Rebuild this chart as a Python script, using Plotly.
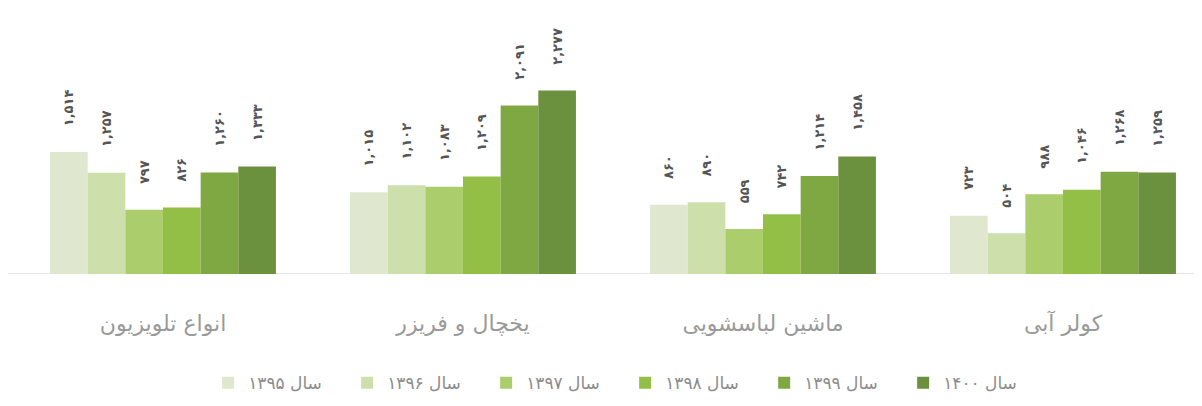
import plotly.graph_objects as go

categories = ["انواع تلویزیون", "یخچال و فریزر", "ماشین لباسشویی", "کولر آبی"]
years = ["سال ۱۳۹۵", "سال ۱۳۹۶", "سال ۱۳۹۷", "سال ۱۳۹۸", "سال ۱۳۹۹", "سال ۱۴۰۰"]

v1395 = [1514, 1015, 860, 723]
v1396 = [1257, 1102, 890, 504]
v1397 = [797, 1083, 559, 988]
v1398 = [826, 1209, 742, 1046]
v1399 = [1260, 2091, 1214, 1268]
v1400 = [1333, 2277, 1458, 1259]

series = [v1395, v1396, v1397, v1398, v1399, v1400]
colors = ["#dfe8cf", "#cde0ab", "#abcd6c", "#93bf46", "#7fa843", "#6c913e"]

FA = str.maketrans("0123456789", "۰۱۲۳۴۵۶۷۸۹")


def fa(n):
    return f"{n:,}".translate(FA)


fig = go.Figure()
for name, vals, col in zip(years, series, colors):
    fig.add_trace(go.Bar(
        x=categories, y=vals, name=name,
        marker=dict(color=col, line=dict(width=0)),
        text=["\u00a0" * 5 + fa(v) for v in vals],
        textposition="outside", textangle=-90, constraintext="none",
        cliponaxis=False,
        textfont=dict(family="DejaVu Sans", size=13, color="#555555", weight="bold"),
    ))

fig.add_shape(type="line", xref="paper", yref="y", x0=-0.012, x1=1.02, y0=0, y1=0,
              line=dict(color="#e6e6e6", width=2), layer="below")

fig.update_layout(
    width=1202, height=406,
    margin=dict(l=5, r=18, t=12, b=140),
    paper_bgcolor="white", plot_bgcolor="white",
    barmode="group", bargap=0.247, bargroupgap=0,
    showlegend=True,
    legend=dict(orientation="h", xref="container", yref="container",
                x=0.1665, xanchor="left", y=0.076, yanchor="middle",
                font=dict(family="DejaVu Sans", size=17, color="#8c8c8c"),
                entrywidth=94, entrywidthmode="pixels",
                itemwidth=30, traceorder="normal"),
    xaxis=dict(range=[-0.5, 3.43], showgrid=False, zeroline=False, showline=False,
               ticks="", ticklabelstandoff=34,
               tickfont=dict(family="DejaVu Sans", size=22, color="#9a9a9a")),
    yaxis=dict(range=[0, 3150], visible=False, showgrid=False, zeroline=False),
)

fig.write_html("out.html")
